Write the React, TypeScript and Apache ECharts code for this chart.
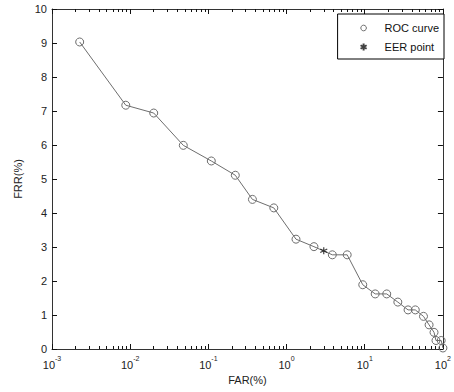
import { useEffect, useRef } from 'react';
import * as echarts from 'echarts';

// ROC curve points
const farValues = [0.00226, 0.00878, 0.0200, 0.0478, 0.109, 0.221, 0.366, 0.687, 1.32, 2.24, 3.85, 5.96, 9.43, 13.6, 19.1, 26.5, 35.8, 44.3, 56.4, 66.5, 76.9, 81.5, 95, 100];
const frrValues = [9.03, 7.17, 6.94, 5.99, 5.53, 5.11, 4.40, 4.15, 3.23, 3.01, 2.77, 2.77, 1.89, 1.62, 1.62, 1.38, 1.15, 1.15, 0.96, 0.71, 0.49, 0.25, 0.25, 0.03];
// EER point
const eerFar = [2.99];
const eerFrr = [2.89];
// ticks
const xMajorTicks = [0.001, 0.01, 0.1, 1, 10, 100];
const xMinorMultipliers = [2, 3, 4, 5, 6, 7, 8, 9];
const yTicks = [0, 1, 2, 3, 4, 5, 6, 7, 8, 9, 10];

const FONT = '"Liberation Sans", Arial, sans-serif';
const AX = '#111';

export default function App() {
  const ref = useRef<HTMLDivElement>(null);
  useEffect(() => {
    if (!ref.current) return;
    const chart = echarts.init(ref.current, undefined, { renderer: 'svg' });
    const xMinor: number[] = [];
    xMajorTicks.slice(0, -1).forEach((d) => xMinorMultipliers.forEach((m) => xMinor.push(+(d * m).toPrecision(6))));
    const logCommon = {
      type: 'log', logBase: 10, min: xMajorTicks[0], max: xMajorTicks[xMajorTicks.length - 1], gridIndex: 0,
      splitLine: { show: false },
    };
    const majorX = (pos: string, labels: boolean) => ({
      ...logCommon,
      position: pos,
      axisLine: { show: true, onZero: false, lineStyle: { color: '#333', width: 1 } },
      axisTick: { show: true, inside: true, length: 5, customValues: xMajorTicks, lineStyle: { color: AX, width: 1 } },
      axisLabel: labels
        ? {
            show: true, customValues: xMajorTicks, margin: 6,
            formatter: (v: number) => '{b|10}{s|' + Math.round(Math.log10(v)) + '}',
            rich: {
              b: { fontFamily: FONT, fontSize: 11, color: '#222', lineHeight: 15, verticalAlign: 'bottom' },
              s: { fontFamily: FONT, fontSize: 7, color: '#222', lineHeight: 8, verticalAlign: 'top' },
            },
          }
        : { show: false },
    });
    const minorX = (pos: string) => ({
      ...logCommon,
      position: pos,
      axisLine: { show: false, onZero: false },
      axisTick: { show: true, inside: true, length: 3, customValues: xMinor, lineStyle: { color: AX, width: 1 } },
      axisLabel: { show: false },
    });
    const yAxisDef = (pos: string, labels: boolean) => ({
      type: 'value', min: yTicks[0], max: yTicks[yTicks.length - 1], interval: 1, position: pos,
      splitLine: { show: false },
      axisLine: { show: true, onZero: false, lineStyle: { color: '#333', width: 1 } },
      axisTick: { show: true, inside: true, length: 5, lineStyle: { color: AX, width: 1 } },
      axisLabel: labels ? { show: true, margin: 5, fontFamily: FONT, fontSize: 11, color: '#222' } : { show: false },
    });

    const option: any = {
      animation: false,
      backgroundColor: '#fff',
      grid: { left: 52, top: 9, width: 396, height: 340, containLabel: false },
      xAxis: [
        {
          ...majorX('bottom', true),
          name: 'FAR(%)', nameLocation: 'middle', nameGap: 25,
          nameTextStyle: { fontFamily: FONT, fontSize: 11, color: '#222' },
        },
        minorX('bottom'),
        majorX('top', false),
        minorX('top'),
      ],
      yAxis: [
        {
          ...yAxisDef('left', true),
          name: 'FRR(%)', nameLocation: 'middle', nameGap: 22, nameRotate: 90,
          nameTextStyle: { fontFamily: FONT, fontSize: 11, color: '#222' },
        },
        yAxisDef('right', false),
      ],
      legend: {
        orient: 'vertical', right: 10, top: 14, padding: [7, 5, 5, 9], itemGap: 5,
        itemWidth: 32, itemHeight: 7,
        borderColor: '#000', borderWidth: 1, backgroundColor: '#fff', borderRadius: 0,
        textStyle: { fontFamily: FONT, fontSize: 11, color: '#111', lineHeight: 14 },
        data: [
          { name: 'ROC curve', lineStyle: { opacity: 0 }, itemStyle: { color: 'rgba(255,255,255,0)', borderColor: '#6e6e6e', borderWidth: 1 } },
          { name: 'EER point' },
        ],
      },
      series: [
        {
          name: 'ROC curve', type: 'line', xAxisIndex: 0, yAxisIndex: 0,
          data: farValues.map((x, i) => [x, frrValues[i]]),
          symbol: 'circle', symbolSize: 8, showAllSymbol: true, clip: false,
          lineStyle: { color: '#6e6e6e', width: 1 },
          itemStyle: { color: 'rgba(255,255,255,0)', borderColor: '#6e6e6e', borderWidth: 1 },
          emphasis: { disabled: true },
          z: 2,
        },
        {
          name: 'EER point', type: 'scatter', xAxisIndex: 0, yAxisIndex: 0,
          data: eerFar.map((x, i) => [x, eerFrr[i]]),
          symbol: 'path://M5 0 L5 10 M0.67 2.5 L9.33 7.5 M0.67 7.5 L9.33 2.5',
          symbolSize: 7, clip: false,
          itemStyle: { color: '#111', borderColor: '#111', borderWidth: 1.2 },
          emphasis: { disabled: true },
          z: 3,
        },
      ],
    };
    chart.setOption(option);
    return () => chart.dispose();
  }, []);
  return <div ref={ref} style={{ position: 'fixed', left: 0, top: 0, width: 454, height: 392 }} />;
}
